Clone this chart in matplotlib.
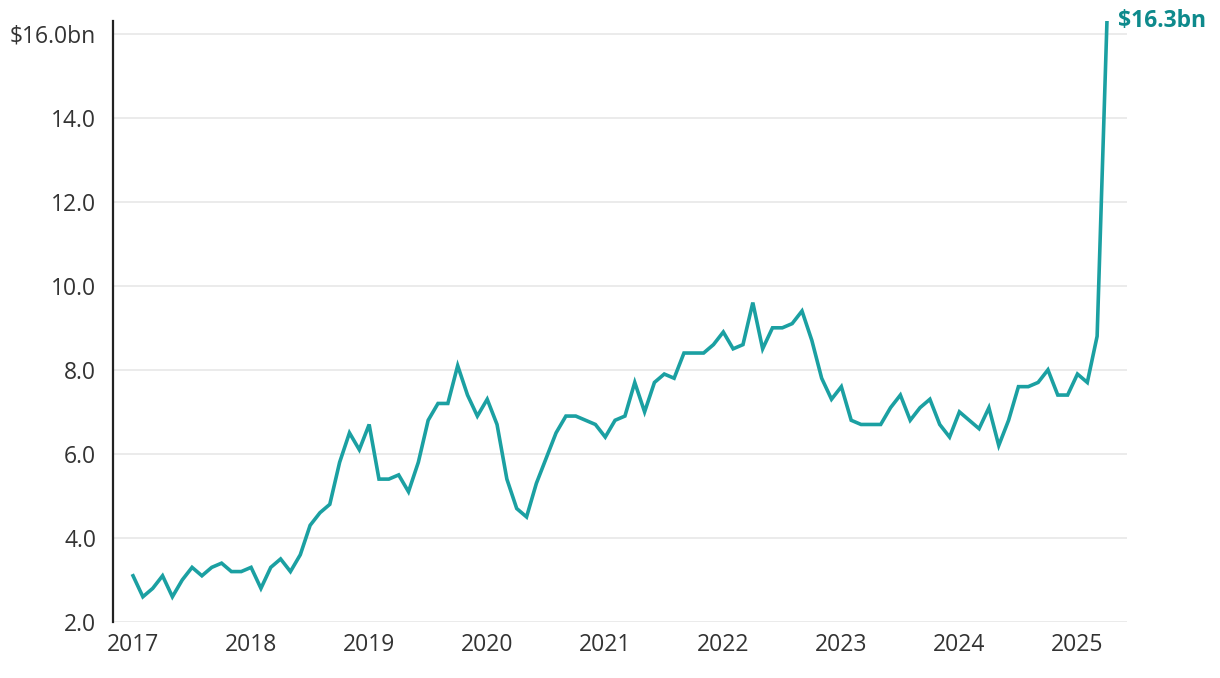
import numpy as np
import matplotlib.pyplot as plt

plt.rcParams['font.family'] = ['Open Sans', 'DejaVu Sans']

# monthly values, Jan 2017 - Apr 2025 ($bn)
values = [
    3.1, 2.6, 2.8, 3.1, 2.6, 3.0, 3.3, 3.1, 3.3, 3.4, 3.2, 3.2,   # 2017
    3.3, 2.8, 3.3, 3.5, 3.2, 3.6, 4.3, 4.6, 4.8, 5.8, 6.5, 6.1,   # 2018
    6.7, 5.4, 5.4, 5.5, 5.1, 5.8, 6.8, 7.2, 7.2, 8.1, 7.4, 6.9,   # 2019
    7.3, 6.7, 5.4, 4.7, 4.5, 5.3, 5.9, 6.5, 6.9, 6.9, 6.8, 6.7,   # 2020
    6.4, 6.8, 6.9, 7.7, 7.0, 7.7, 7.9, 7.8, 8.4, 8.4, 8.4, 8.6,   # 2021
    8.9, 8.5, 8.6, 9.6, 8.5, 9.0, 9.0, 9.1, 9.4, 8.7, 7.8, 7.3,   # 2022
    7.6, 6.8, 6.7, 6.7, 6.7, 7.1, 7.4, 6.8, 7.1, 7.3, 6.7, 6.4,   # 2023
    7.0, 6.8, 6.6, 7.1, 6.2, 6.8, 7.6, 7.6, 7.7, 8.0, 7.4, 7.4,   # 2024
    7.9, 7.7, 8.8, 16.3,                                          # 2025
]
start_year = 2017
years = list(range(2017, 2026))
y_ticks = [2, 4, 6, 8, 10, 12, 14, 16]
y_labels = ["2.0", "4.0", "6.0", "8.0", "10.0", "12.0", "14.0", "$16.0bn"]
last_label = "$16.3bn"

x = start_year + np.arange(len(values)) / 12

fig = plt.figure(figsize=(12.2, 6.78), dpi=100)
ax = fig.add_axes([0.0926, 0.0826, 0.8312, 0.8864])

ax.plot(x, values, color="#1ba0a2", lw=2.6, solid_joinstyle="miter", zorder=3)

ax.set_xlim(2016.83, 2025.42)
ax.set_ylim(2, 16.3)
ax.set_yticks(y_ticks)
ax.set_yticklabels(y_labels)
ax.set_xticks(years)
ax.set_xticklabels([str(y) for y in years])

ax.grid(axis="y", color="#ebebeb", lw=1.4)
ax.set_axisbelow(True)
for s in ["top", "right", "bottom"]:
    ax.spines[s].set_visible(False)
ax.spines["left"].set_color("#222222")
ax.spines["left"].set_linewidth(1.6)
ax.tick_params(axis="both", length=0, labelsize=16.5, colors="#333333")
ax.tick_params(axis="y", pad=12)
ax.tick_params(axis="x", pad=8)

ax.annotate(last_label, (x[-1], values[-1]), xytext=(8, 0), textcoords="offset points",
            ha="left", va="center", fontsize=16.5, fontweight="bold", color="#0e8a8c",
            annotation_clip=False)

fig.savefig("out.png", dpi=100)
